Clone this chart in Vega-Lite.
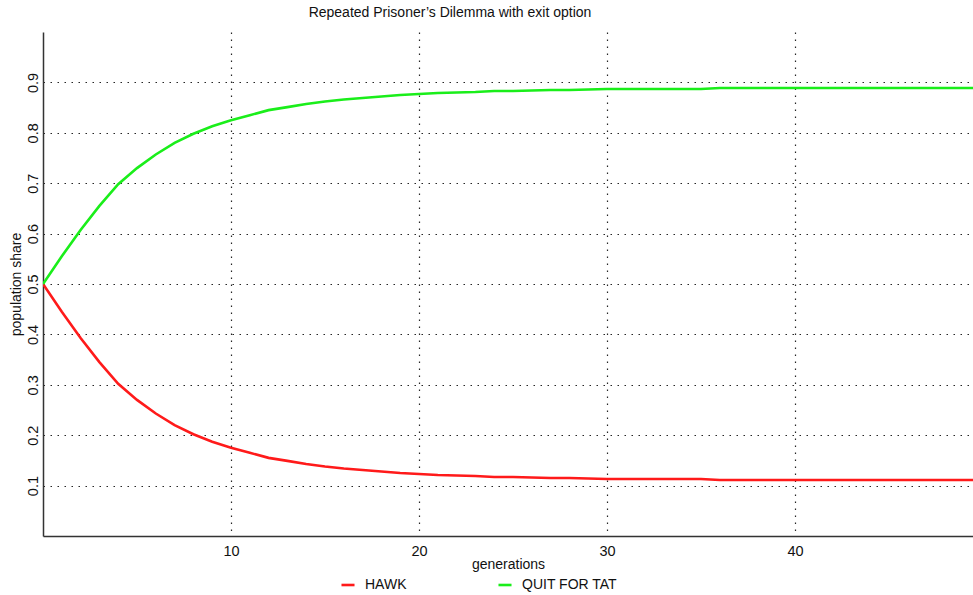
{
  "$schema": "https://vega.github.io/schema/vega-lite/v6.json",
  "autosize": {"type": "none"},
  "padding": {"left": 43, "top": 32, "right": 0, "bottom": 59},
  "width": 930,
  "height": 504,
  "background": "white",
  "title": {
    "text": "Repeated Prisoner’s Dilemma with exit option",
    "font": "Liberation Sans",
    "fontSize": 14,
    "fontWeight": "normal",
    "color": "#111",
    "offset": 12,
    "dx": -58
  },
  "data": {
    "values": [
      {"g": 0, "HAWK": 0.500, "QUIT FOR TAT": 0.500},
      {"g": 1, "HAWK": 0.445, "QUIT FOR TAT": 0.555},
      {"g": 2, "HAWK": 0.393, "QUIT FOR TAT": 0.607},
      {"g": 3, "HAWK": 0.345, "QUIT FOR TAT": 0.655},
      {"g": 4, "HAWK": 0.302, "QUIT FOR TAT": 0.698},
      {"g": 5, "HAWK": 0.270, "QUIT FOR TAT": 0.730},
      {"g": 6, "HAWK": 0.243, "QUIT FOR TAT": 0.757},
      {"g": 7, "HAWK": 0.220, "QUIT FOR TAT": 0.780},
      {"g": 8, "HAWK": 0.202, "QUIT FOR TAT": 0.798},
      {"g": 9, "HAWK": 0.187, "QUIT FOR TAT": 0.813},
      {"g": 10, "HAWK": 0.175, "QUIT FOR TAT": 0.825},
      {"g": 11, "HAWK": 0.165, "QUIT FOR TAT": 0.835},
      {"g": 12, "HAWK": 0.155, "QUIT FOR TAT": 0.845},
      {"g": 13, "HAWK": 0.149, "QUIT FOR TAT": 0.851},
      {"g": 14, "HAWK": 0.143, "QUIT FOR TAT": 0.857},
      {"g": 15, "HAWK": 0.138, "QUIT FOR TAT": 0.862},
      {"g": 16, "HAWK": 0.134, "QUIT FOR TAT": 0.866},
      {"g": 17, "HAWK": 0.131, "QUIT FOR TAT": 0.869},
      {"g": 18, "HAWK": 0.128, "QUIT FOR TAT": 0.872},
      {"g": 19, "HAWK": 0.125, "QUIT FOR TAT": 0.875},
      {"g": 20, "HAWK": 0.123, "QUIT FOR TAT": 0.877},
      {"g": 21, "HAWK": 0.121, "QUIT FOR TAT": 0.879},
      {"g": 22, "HAWK": 0.120, "QUIT FOR TAT": 0.880},
      {"g": 23, "HAWK": 0.119, "QUIT FOR TAT": 0.881},
      {"g": 24, "HAWK": 0.117, "QUIT FOR TAT": 0.883},
      {"g": 25, "HAWK": 0.117, "QUIT FOR TAT": 0.883},
      {"g": 26, "HAWK": 0.116, "QUIT FOR TAT": 0.884},
      {"g": 27, "HAWK": 0.115, "QUIT FOR TAT": 0.885},
      {"g": 28, "HAWK": 0.115, "QUIT FOR TAT": 0.885},
      {"g": 29, "HAWK": 0.114, "QUIT FOR TAT": 0.886},
      {"g": 30, "HAWK": 0.113, "QUIT FOR TAT": 0.887},
      {"g": 31, "HAWK": 0.113, "QUIT FOR TAT": 0.887},
      {"g": 32, "HAWK": 0.113, "QUIT FOR TAT": 0.887},
      {"g": 33, "HAWK": 0.113, "QUIT FOR TAT": 0.887},
      {"g": 34, "HAWK": 0.113, "QUIT FOR TAT": 0.887},
      {"g": 35, "HAWK": 0.113, "QUIT FOR TAT": 0.887},
      {"g": 36, "HAWK": 0.111, "QUIT FOR TAT": 0.889},
      {"g": 37, "HAWK": 0.111, "QUIT FOR TAT": 0.889},
      {"g": 38, "HAWK": 0.111, "QUIT FOR TAT": 0.889},
      {"g": 39, "HAWK": 0.111, "QUIT FOR TAT": 0.889},
      {"g": 40, "HAWK": 0.111, "QUIT FOR TAT": 0.889},
      {"g": 41, "HAWK": 0.111, "QUIT FOR TAT": 0.889},
      {"g": 42, "HAWK": 0.111, "QUIT FOR TAT": 0.889},
      {"g": 43, "HAWK": 0.111, "QUIT FOR TAT": 0.889},
      {"g": 44, "HAWK": 0.111, "QUIT FOR TAT": 0.889},
      {"g": 45, "HAWK": 0.111, "QUIT FOR TAT": 0.889},
      {"g": 46, "HAWK": 0.111, "QUIT FOR TAT": 0.889},
      {"g": 47, "HAWK": 0.111, "QUIT FOR TAT": 0.889},
      {"g": 48, "HAWK": 0.111, "QUIT FOR TAT": 0.889},
      {"g": 49, "HAWK": 0.111, "QUIT FOR TAT": 0.889},
      {"g": 50, "HAWK": 0.111, "QUIT FOR TAT": 0.889}
    ]
  },
  "transform": [
    {"fold": ["HAWK", "QUIT FOR TAT"], "as": ["strategy", "share"]}
  ],
  "mark": {"type": "line", "strokeWidth": 2.6, "clip": true},
  "encoding": {
    "x": {
      "field": "g",
      "type": "quantitative",
      "title": "generations",
      "scale": {"domain": [0, 49.47], "nice": false, "zero": false},
      "axis": {
        "values": [10, 20, 30, 40],
        "labelFontSize": 14.5,
        "labelPadding": 8,
        "titlePadding": 0
      }
    },
    "y": {
      "field": "share",
      "type": "quantitative",
      "title": "population share",
      "scale": {"domain": [0, 1], "nice": false},
      "axis": {
        "values": [0.1, 0.2, 0.3, 0.4, 0.5, 0.6, 0.7, 0.8, 0.9],
        "format": ".1f",
        "labelFontSize": 14.5,
        "labelAngle": 270,
        "labelAlign": "center",
        "labelBaseline": "bottom",
        "labelPadding": 3,
        "titlePadding": 2
      }
    },
    "color": {
      "field": "strategy",
      "type": "nominal",
      "scale": {"domain": ["HAWK", "QUIT FOR TAT"], "range": ["#ff1a1a", "#1aee1a"]},
      "legend": {
        "title": null,
        "orient": "none",
        "direction": "horizontal",
        "legendX": 297,
        "legendY": 545,
        "symbolType": "stroke",
        "symbolSize": 170,
        "symbolStrokeWidth": 2.6,
        "labelFont": "Liberation Sans",
        "labelFontSize": 14,
        "labelColor": "#111",
        "labelOffset": 9,
        "columnPadding": 86
      }
    }
  },
  "config": {
    "view": {"stroke": null},
    "axis": {
      "labelFont": "Liberation Sans",
      "titleFont": "Liberation Sans",
      "titleFontSize": 14,
      "titleFontWeight": "normal",
      "labelColor": "#111",
      "titleColor": "#111",
      "ticks": false,
      "domainColor": "#333",
      "domainWidth": 1.5,
      "grid": true,
      "gridColor": "#000",
      "gridOpacity": 0.85,
      "gridDash": [1.5, 5.5],
      "gridWidth": 1.2
    }
  }
}
